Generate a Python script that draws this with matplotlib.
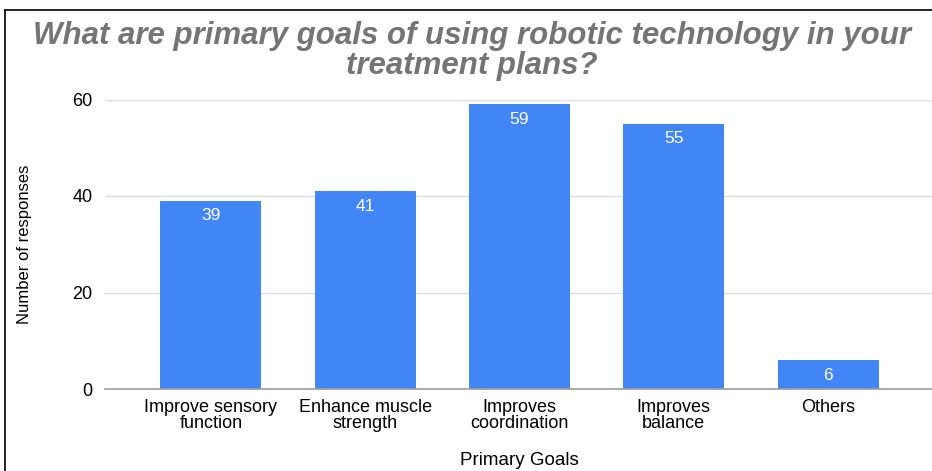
import matplotlib.pyplot as plt

goals = ["Improve sensory\nfunction", "Enhance muscle\nstrength", "Improves\ncoordination",
         "Improves\nbalance", "Others"]
responses = [39, 41, 59, 55, 6]
yticks = [0, 20, 40, 60]

plt.rcParams["font.family"] = ["Liberation Sans", "DejaVu Sans"]

fig = plt.figure(figsize=(9.32, 4.71), dpi=100)
ax = fig.add_axes([105 / 932, (471 - 389) / 471, (934 - 105) / 932, (389 - 99.5) / 471])

x = range(len(goals))
bars = ax.bar(x, responses, width=0.655, color="#4285f4", zorder=3)
for b, v in zip(bars, responses):
    ax.text(b.get_x() + b.get_width() / 2, v - 3.1, str(v), ha="center", va="center",
            color="white", fontsize=12.5, zorder=4)

ax.set_xlim(-0.686, 4.686)
ax.set_ylim(0, 60)
ax.set_yticks(yticks)
ax.set_xticks(list(x))
ax.set_xticklabels(goals, fontsize=13, linespacing=0.92)
ax.tick_params(axis="both", length=0)
ax.tick_params(axis="y", pad=9, labelsize=13)
ax.tick_params(axis="x", pad=7)
ax.grid(axis="y", color="#dddddd", linewidth=1, zorder=0)
for s in ["top", "right", "left"]:
    ax.spines[s].set_visible(False)
ax.spines["bottom"].set_color("#9e9e9e")
ax.spines["bottom"].set_linewidth(1.2)
ax.spines["bottom"].set_zorder(5)

ax.set_ylabel("Number of responses", fontsize=12)
ax.yaxis.set_label_coords(-0.088, 0.5)
ax.set_xlabel("Primary Goals", fontsize=13.5)
ax.xaxis.set_label_coords(0.5, -(452 - 389) / 289.5)

fig.text(0.506, 1 - 51 / 471, "What are primary goals of using robotic technology in your\ntreatment plans?",
         ha="center", va="center", fontsize=22.5, fontweight="bold", fontstyle="italic",
         color="#757575", linespacing=1.0)

# frame around the chart (top and left edges)
fig.add_artist(plt.Line2D([5 / 932, 5 / 932], [0, 461 / 471], color="black", linewidth=1.2,
                          transform=fig.transFigure))
fig.add_artist(plt.Line2D([5 / 932, 1], [461 / 471, 461 / 471], color="black", linewidth=1.2,
                          transform=fig.transFigure))

fig.savefig("out.png", dpi=100)
